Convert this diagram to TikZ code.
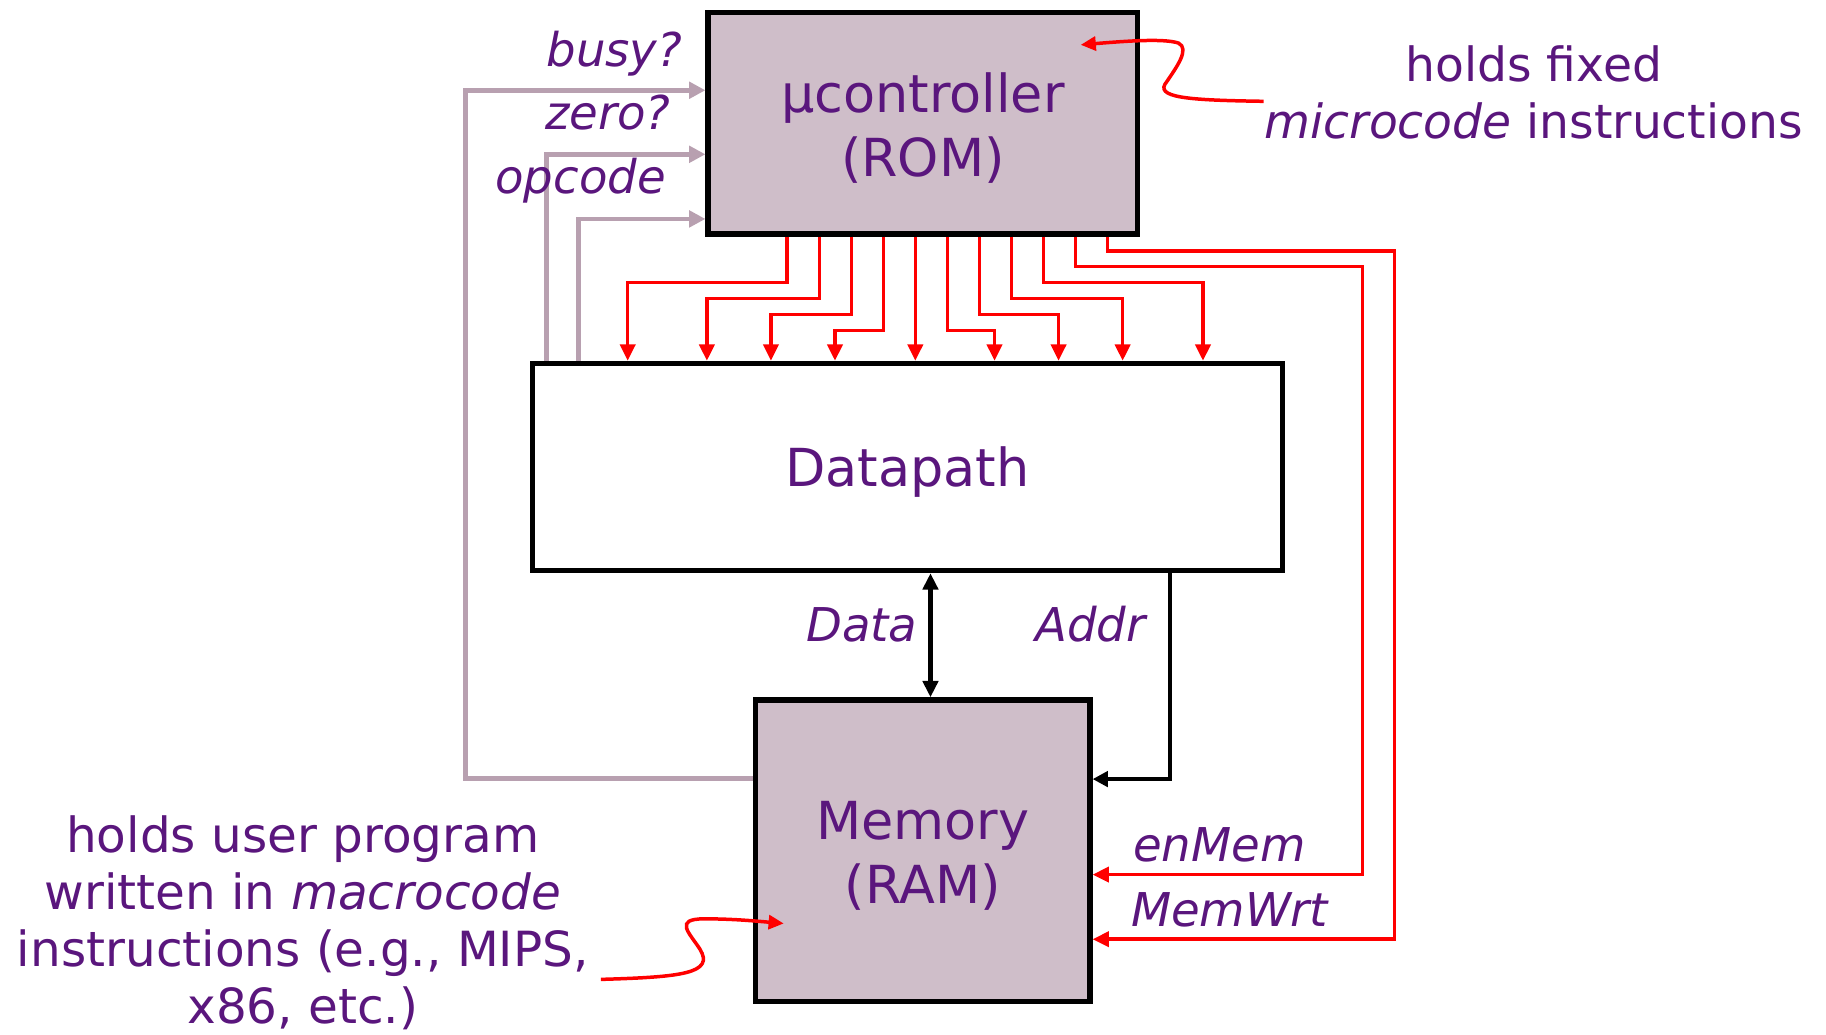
\documentclass[tikz,border=0pt]{standalone}
\usepackage{fontspec}
\setmainfont{DejaVu Sans}
\usetikzlibrary{arrows.meta}
\definecolor{txt}{RGB}{90,22,125}
\definecolor{mauve}{RGB}{207,190,201}
\definecolor{grayline}{RGB}{184,160,176}
\begin{document}
\begin{tikzpicture}[x=1pt,y=-1pt,
  box/.style={draw=black,line width=4.5pt,inner sep=0pt},
  boxtext/.style={text=txt,inner sep=0pt,align=center,font=\fontsize{45}{55}\selectfont},
  lbl/.style={text=txt,inner sep=0pt,font=\fontsize{40}{48}\selectfont\itshape},
  note/.style={text=txt,inner sep=0pt,align=center},
  redarr/.style={draw=red,line width=3pt,-{Triangle[length=14pt,width=13pt]}},
  redann/.style={draw=red,line width=3pt,-{Triangle[length=13pt,width=12pt]}},
  grayarr/.style={draw=grayline,line width=4pt,-{Triangle[length=14pt,width=14pt]}},
  blkarr/.style={draw=black,line width=3.5pt},
]
\useasboundingbox (0,0) rectangle (1568,888);

% boxes
\node[box,fill=mauve,minimum width=369pt,minimum height=190pt] (ROM) at (792.5,106) {};
\node[box,fill=white,minimum width=644pt,minimum height=178pt] (DP) at (779,401) {};
\node[box,fill=mauve,minimum width=287pt,minimum height=259pt] (MEM) at (792.5,730.5) {};
\node[boxtext] (tROM) at (792.5,110) {μcontroller\\(ROM)};
\node[boxtext] (tDP) at (779,405) {Datapath};
\node[boxtext] (tMEM) at (792.5,735) {Memory\\(RAM)};

% red control lines to datapath
\foreach \s/\t/\l in {676/539/242.7, 703.5/607/256.5, 731/662/270, 758.5/717/284, 786/786/260, 813.5/854/284, 841/909/270, 868.5/964/256.5, 896/1033/242.7}
  \draw[redarr] (\s,0 |- ROM.south) |- (\t,\l) -- (\t,0 |- DP.north);

% red control lines to memory
\draw[redarr] (923.5,0 |- ROM.south) |- (1170,229) |- (MEM.east |- 0,751);
\draw[redarr] (951,0 |- ROM.south) |- (1197.5,215.5) |- (MEM.east |- 0,806.5);

% gray status lines
\draw[grayarr] (MEM.west |- 0,668.5) -| (400,77.5) -- (ROM.west |- 0,77.5);
\draw[grayarr] (469.5,0 |- DP.north) |- (ROM.west |- 0,132.5);
\draw[grayarr] (497,0 |- DP.north) |- (ROM.west |- 0,188);

% black data / address
\draw[blkarr,{Triangle[length=14pt,width=13pt]}-{Triangle[length=14pt,width=13pt]}] (799,0 |- DP.south) -- (799,0 |- MEM.north);
\draw[blkarr,-{Triangle[length=13pt,width=13pt]}] (1004.5,0 |- DP.south) |- (MEM.east |- 0,669);

% labels
\node[lbl,anchor=base east] (lbusy) at (586,57) {busy?};
\node[lbl,anchor=base east] (lzero) at (576,111.6) {zero?};
\node[lbl,anchor=base east] (lopc) at (572,166) {opcode};
\node[lbl,anchor=base east] (ldata) at (788,551) {Data};
\node[lbl,anchor=base west] (laddr) at (889,551) {Addr};
\node[lbl,anchor=base west] (len) at (973,740) {enMem};
\node[lbl,anchor=base west] (lwrt) at (971,796) {MemWrt};

% annotations
\node[note,font=\fontsize{40.5}{48.7}\selectfont] (nrom) at (1317,79.6) {holds fixed\\\textit{microcode} instructions};
\node[note,font=\fontsize{41.6}{49.2}\selectfont] (nmem) at (260,792.4) {holds user program\\written in \textit{macrocode}\\instructions (e.g., MIPS,\\x86, etc.)};

\coordinate (c1) at (1085,87);
\coordinate (t1) at (928,38.5);
\draw[redann] (c1) .. controls (1020,86) and (990,84) .. (1002,70) .. controls (1010,58) and (1022,42) .. (1012,37) .. controls (1000,33) and (970,35) .. (t1);

\coordinate (c2) at (516,841);
\coordinate (t2) at (673,793);
\draw[redann] (c2) .. controls (585,839) and (614,836) .. (601,815) .. controls (592,801) and (578,789) .. (605,789) .. controls (630,789) and (650,791) .. (t2);
\end{tikzpicture}
\end{document}
